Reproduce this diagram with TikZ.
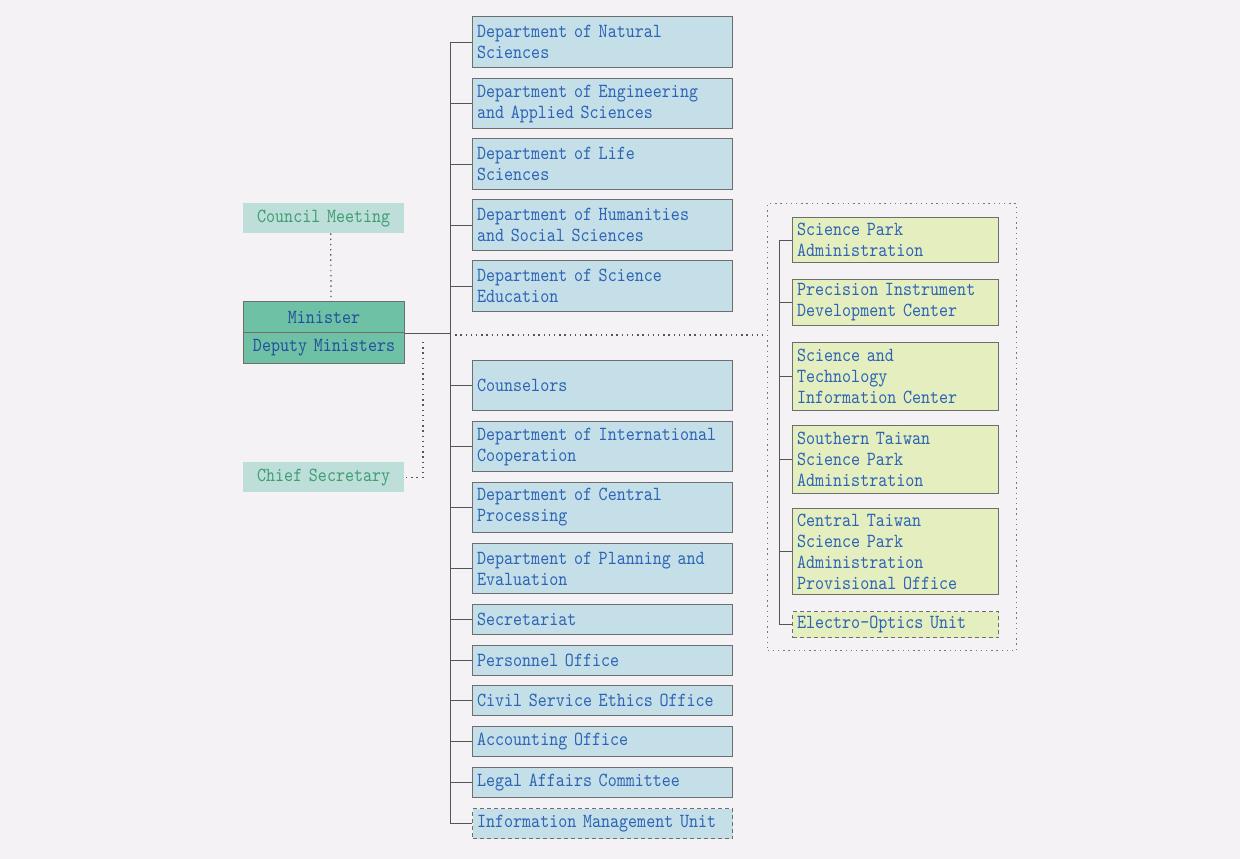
\documentclass[tikz,border=0pt]{standalone}
\usepackage{fontspec}
\newfontfamily\boxface{lmmono10-regular.otf}[FakeStretch=0.86]
\newcommand\boxfont{\boxface\fontsize{20}{21}\selectfont}
\definecolor{paper}{HTML}{F5F2F5}
\definecolor{bluefill}{HTML}{C4DFE7}
\definecolor{yellowfill}{HTML}{E4EEBF}
\definecolor{mintfill}{HTML}{BEDEDA}
\definecolor{tealfill}{HTML}{6FC1A6}
\definecolor{edgegrey}{HTML}{6E6E6E}
\definecolor{linegrey}{HTML}{555555}
\definecolor{textblue}{HTML}{2C63B6}
\definecolor{textgreen}{HTML}{3E9E72}
\definecolor{ministerblue}{HTML}{234F9E}
\tikzset{
  unit/.style={draw=edgegrey, line width=1.1pt, fill=bluefill, text=textblue,
    font=\boxfont, align=left, anchor=north west,
    inner xsep=4.5pt, inner ysep=0pt, minimum width=260pt, text width=251pt},
  park/.style={unit, fill=yellowfill, minimum width=206pt, text width=197pt},
  provisional/.style={dashed, dash pattern=on 4pt off 3pt},
  council/.style={fill=mintfill, text=textgreen, anchor=north west,
    font=\boxfont, align=center,
    minimum width=161pt, text width=155pt, inner sep=0pt},
  minister/.style={draw=edgegrey, line width=1.1pt, fill=tealfill, text=ministerblue,
    anchor=north west, font=\boxfont, align=center,
    minimum width=161pt, text width=155pt, inner sep=0pt, minimum height=31pt},
  link/.style={draw=linegrey, line width=1pt},
  dotlink/.style={draw=linegrey, line width=1.2pt, dash pattern=on 1.4pt off 3.8pt},
  groupbox/.style={draw=linegrey!80, line width=1.2pt, dash pattern=on 1.4pt off 3.8pt,
    anchor=north west, minimum width=249pt, minimum height=447pt, inner sep=0pt}
}
\begin{document}
\begin{tikzpicture}[x=1pt, y=-1pt]
  \useasboundingbox (0,0) rectangle (1240,859);
  \fill[paper] (0,0) rectangle (1240,859);

  % leadership
  \node[council, minimum height=30pt] (council) at (243,203) {Council Meeting};
  \node[minister] (min) at (243,301) {Minister};
  \node[minister] (dep) at (243,332) {Deputy Ministers};
  \node[council, minimum height=30pt] (chief) at (243,462) {Chief Secretary};

  % departments
  \node[unit, minimum height=51pt] (nat)   at (472,16)  {Department of Natural\\Sciences};
  \node[unit, minimum height=50pt] (eng)   at (472,78)  {Department of Engineering\\and Applied Sciences};
  \node[unit, minimum height=51pt] (life)  at (472,138) {Department of Life\\Sciences};
  \node[unit, minimum height=51pt] (hum)   at (472,199) {Department of Humanities\\and Social Sciences};
  \node[unit, minimum height=51pt] (sed)   at (472,260) {Department of Science\\Education};
  \node[unit, minimum height=50pt] (coun)  at (472,360) {Counselors};
  \node[unit, minimum height=50pt] (intl)  at (472,421) {Department of International\\Cooperation};
  \node[unit, minimum height=50pt] (cent)  at (472,482) {Department of Central\\Processing};
  \node[unit, minimum height=50pt] (plan)  at (472,543) {Department of Planning and\\Evaluation};
  \node[unit, minimum height=30pt] (sec)   at (472,604) {Secretariat};
  \node[unit, minimum height=30pt] (pers)  at (472,645) {Personnel Office};
  \node[unit, minimum height=30pt] (civ)   at (472,685) {Civil Service Ethics Office};
  \node[unit, minimum height=30pt] (acc)   at (472,726) {Accounting Office};
  \node[unit, minimum height=30pt] (legal) at (472,767) {Legal Affairs Committee};
  \node[unit, provisional, minimum height=30pt] (info) at (472,808) {Information Management Unit};

  % affiliated agencies
  \node[groupbox] (grp) at (767,203) {};
  \node[park, minimum height=45pt] (spa)  at (792,217) {Science Park\\Administration};
  \node[park, minimum height=46pt] (pidc) at (792,279) {Precision Instrument\\Development Center};
  \node[park, minimum height=68pt] (stic) at (792,342) {Science and\\Technology\\Information Center};
  \node[park, minimum height=68pt] (stsp) at (792,425) {Southern Taiwan\\Science Park\\Administration};
  \node[park, minimum height=86pt] (ctsp) at (792,508) {Central Taiwan\\Science Park\\Administration\\Provisional Office};
  \node[park, provisional, minimum height=26pt] (eou) at (792,611) {Electro-Optics Unit};

  % trunk lines
  \coordinate (tk) at (450,0);
  \coordinate (tk2) at (779,0);
  \coordinate (mid) at (450,335);
  \coordinate (dv) at (423,342);

  \draw[link] (nat.west) -- (nat.west -| tk) -- (info.west -| tk) -- (info.west);
  \foreach \n in {eng,life,hum,sed,coun,intl,cent,plan,sec,pers,civ,acc,legal}
    \draw[link] (\n.west) -- (\n.west -| tk);
  \draw[link] (min.south east) -- (min.south east -| tk);

  \draw[link] (spa.west) -- (spa.west -| tk2) -- (eou.west -| tk2) -- (eou.west);
  \foreach \n in {pidc,stic,stsp,ctsp}
    \draw[link] (\n.west) -- (\n.west -| tk2);

  % advisory and staff links
  \draw[dotlink] ([xshift=7pt]council.south) -- ([xshift=7pt]min.north);
  \draw[dotlink] (dv) |- (chief.east);
  \draw[dotlink] (mid) -- (mid -| grp.west);
\end{tikzpicture}
\end{document}
